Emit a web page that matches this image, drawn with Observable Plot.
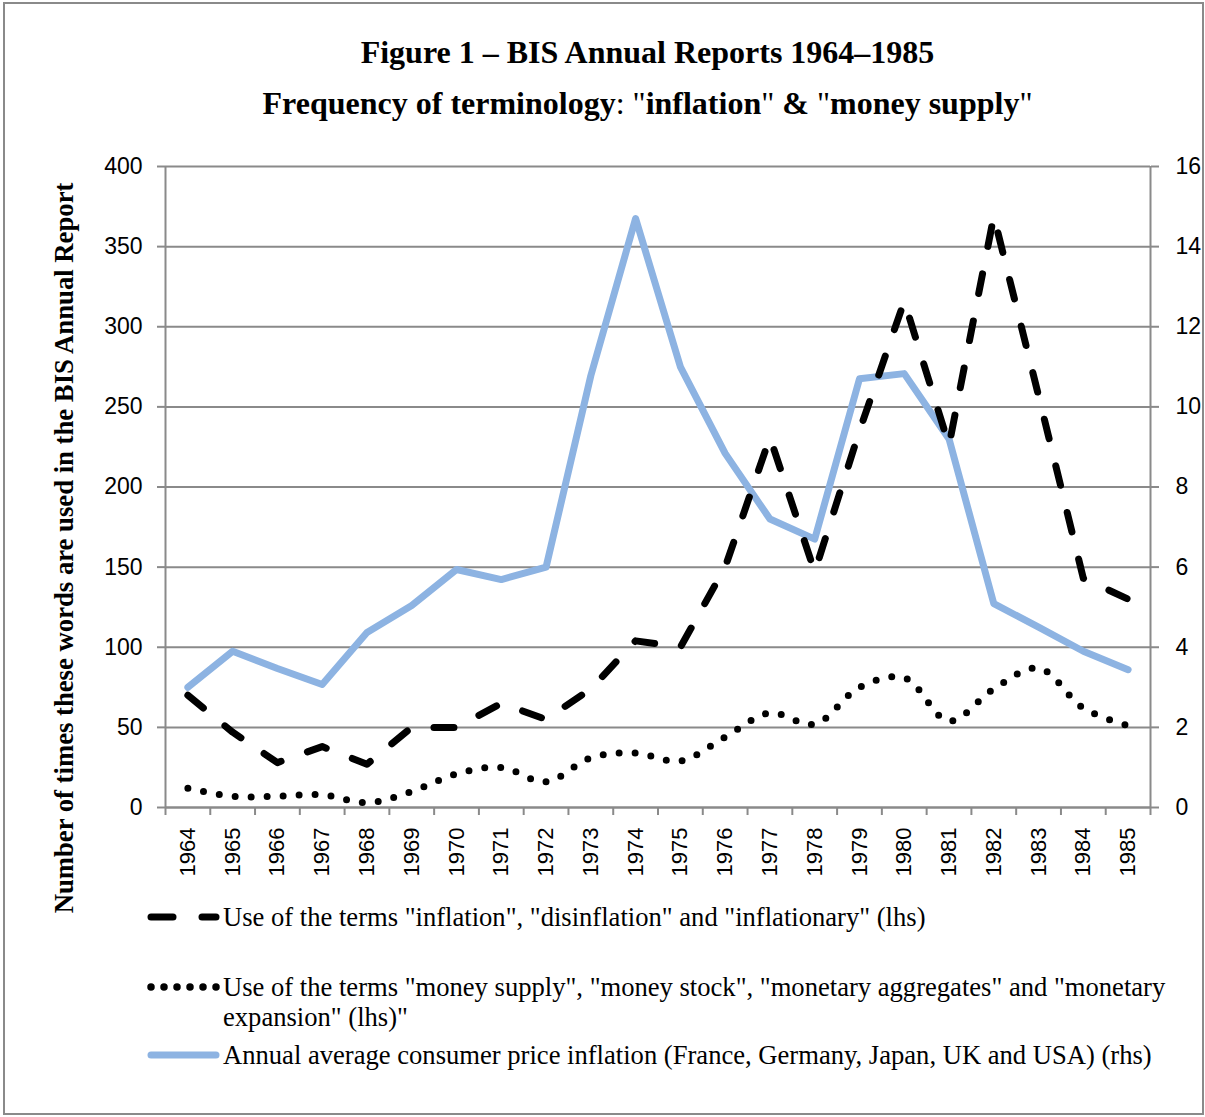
<!DOCTYPE html>
<html>
<head>
<meta charset="utf-8">
<script src="https://cdn.jsdelivr.net/npm/d3@7"></script>
<script src="https://cdn.jsdelivr.net/npm/@observablehq/plot@0.6"></script>
<style>
  html, body { margin: 0; padding: 0; background: #fff; }
  #frame { position: absolute; left: 3px; top: 2px; width: 1201px; height: 1113px; border: 2px solid #8a8a8a; box-sizing: border-box; }
  .title { position: absolute; left: 0; width: 1295px; text-align: center; font-family: "Liberation Serif", serif; font-weight: bold; color: #000; white-space: nowrap; line-height: 38px; }
  #ylab { position: absolute; left: 64px; top: 548px; transform: translate(-50%, -50%) rotate(-90deg); font-family: "Liberation Serif", serif; font-weight: bold; font-size: 26.7px; white-space: nowrap; color: #000; }
  #chart { position: absolute; left: 0; top: 130px; }
  .leg { position: absolute; left: 147px; font-family: "Liberation Serif", serif; font-size: 26.6px; color: #000; line-height: 30px; }
  .leg svg { position: absolute; left: 0; top: 0; }
  .leg span { position: absolute; left: 76px; top: 0; white-space: nowrap; }
</style>
</head>
<body>
<div id="frame"></div>
<div class="title" style="top:33px;font-size:32px;">Figure 1 – BIS Annual Reports 1964–1985</div>
<div class="title" style="top:84px;font-size:32px;">Frequency of terminology<span style="font-weight:normal">: "</span>inflation<span style="font-weight:normal">"</span> &amp; <span style="font-weight:normal">"</span>money supply<span style="font-weight:normal">"</span></div>
<div id="ylab">Number of times these words are used in the BIS Annual Report</div>
<div id="chart"></div>
<div id="legend"></div>
<script>
const years = [1964,1965,1966,1967,1968,1969,1970,1971,1972,1973,1974,1975,1976,1977,1978,1979,1980,1981,1982,1983,1984,1985];
const inflationTerms = [70,47,28,38,27,50,50,65,55,74,104,100,150,231,147,235,316,226,369,257,143,130];
const moneyTerms = [12,7,7,8,3,10,21,25,16,31,34,29,44,59,52,75,81,54,74,87,62,51];
const cpiInflation = [3.0,3.9,3.47,3.07,4.37,5.04,5.94,5.69,6.0,10.78,14.7,11.0,8.84,7.2,6.7,10.7,10.83,9.2,5.09,4.5,3.9,3.44];
const leftTicks = [0,50,100,150,200,250,300,350,400];
const rhsMax = 16;
const lhsMax = 400;
const legendLabels = [
  'Use of the terms "inflation", "disinflation" and "inflationary" (lhs)',
  'Use of the terms "money supply", "money stock", "monetary aggregates" and "monetary',
  'expansion" (lhs)"',
  'Annual average consumer price inflation (France, Germany, Japan, UK and USA) (rhs)'
];

const ratio = lhsMax / rhsMax;
const data = years.map((y, i) => ({year: y, infl: inflationTerms[i], money: moneyTerms[i], cpi: cpiInflation[i]}));
const bounds = years.map(y => y - 0.5).concat([years[years.length - 1] + 0.5]);

const gray = "#8a8a8a";
const blue = "#8db3e2";

const chart = Plot.plot({
  width: 1205,
  height: 760,
  marginTop: 36,
  marginBottom: 83,
  marginLeft: 165,
  marginRight: 55,
  style: {fontFamily: "'Liberation Sans', Arial, sans-serif", fontSize: "23px", color: "#000", background: "transparent"},
  x: {type: "linear", domain: [bounds[0], bounds[bounds.length - 1]]},
  y: {domain: [0, lhsMax]},
  marks: [
    Plot.gridY(leftTicks, {stroke: gray, strokeOpacity: 1, strokeWidth: 2}),
    Plot.ruleX([bounds[0], bounds[bounds.length - 1]], {stroke: gray, strokeWidth: 2}),
    Plot.ruleY([0], {stroke: gray, strokeWidth: 2}),
    Plot.axisY(leftTicks, {anchor: "left", tickSize: 8, tickPadding: 15, stroke: gray, fill: "#000", strokeWidth: 2, label: null, fontSize: 23}),
    Plot.axisY(leftTicks, {anchor: "right", tickSize: 8, tickPadding: 17, stroke: gray, fill: "#000", strokeWidth: 2, label: null, fontSize: 23, tickFormat: d => String(d / ratio)}),
    Plot.axisX(bounds, {anchor: "bottom", tickSize: 8, tickFormat: () => "", stroke: gray, strokeWidth: 2, label: null}),
    Plot.axisX(years, {anchor: "bottom", tickSize: 0, tickPadding: 20, tickRotate: -90, tickFormat: d => String(d), label: null, fill: "#000", fontSize: 22}),
    Plot.line(data, {x: "year", y: d => d.cpi * ratio, stroke: blue, strokeWidth: 7, strokeLinejoin: "round", strokeLinecap: "round"}),
    Plot.line(data, {x: "year", y: "money", curve: "catmull-rom", stroke: "#000", strokeWidth: 7, strokeLinecap: "round", strokeDasharray: "0,16"}),
    Plot.line(data, {x: "year", y: "infl", stroke: "#000", strokeWidth: 7, strokeLinecap: "round", strokeDasharray: "20,28"})
  ]
});
document.getElementById("chart").appendChild(chart);

const legend = document.getElementById("legend");
const rows = [
  {top: 902, sym: '<line x1="4" y1="15" x2="26" y2="15" stroke="#000" stroke-width="7" stroke-linecap="round"/><line x1="55" y1="15" x2="69" y2="15" stroke="#000" stroke-width="7" stroke-linecap="round"/>', text: legendLabels[0]},
  {top: 972, sym: '<line x1="4" y1="15" x2="70.5" y2="15" stroke="#000" stroke-width="7.5" stroke-linecap="round" stroke-dasharray="0,13"/>', text: legendLabels[1]},
  {top: 1002, sym: '', text: legendLabels[2]},
  {top: 1040, sym: '<line x1="4" y1="15" x2="69" y2="15" stroke="' + blue + '" stroke-width="7" stroke-linecap="round"/>', text: legendLabels[3]}
];
for (const r of rows) {
  const div = document.createElement("div");
  div.className = "leg";
  div.style.top = r.top + "px";
  div.innerHTML = (r.sym ? '<svg width="78" height="30">' + r.sym + '</svg>' : '') + '<span>' + r.text.replace(/&/g, "&amp;").replace(/</g, "&lt;") + '</span>';
  legend.appendChild(div);
}
</script>
</body>
</html>
